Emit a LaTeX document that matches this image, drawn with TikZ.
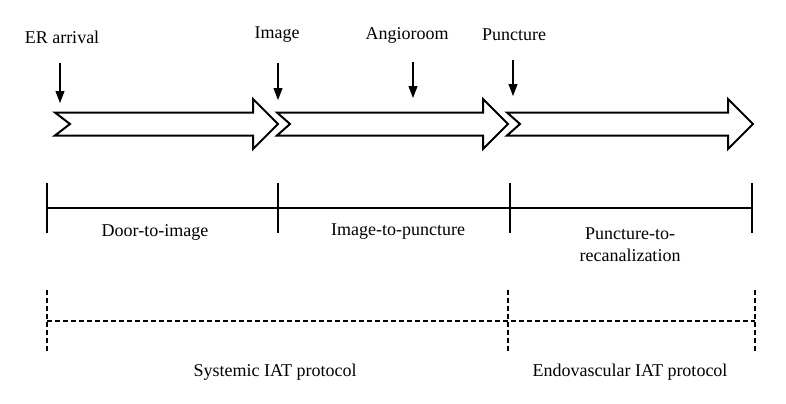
\documentclass[tikz,border=0pt]{standalone}
\usepackage{fontspec}
\setmainfont{Liberation Serif}
\usetikzlibrary{positioning,calc,arrows.meta}

\tikzset{
  stagearrow/.style={draw=black, line width=1pt, line join=miter},
  marker/.style={-{Triangle[width=4.5pt,length=6pt]}, line width=0.6pt},
  lbl/.style={font=\fontsize{9}{11}\selectfont, inner sep=1pt, align=center},
  timebar/.style={line width=1pt},
  protobar/.style={line width=1pt, dash pattern=on 2.5pt off 1.5pt},
}

\begin{document}
\begin{tikzpicture}[x=0.5pt,y=-0.5pt]
	\useasboundingbox (0,0) rectangle (786,403);
	
	% events
	\node[lbl] (er) at (62,37) {ER arrival};
	\node[lbl] (img) at (277,35) {Image};
	\node[lbl] (angio) at (407,35) {Angioroom};
	\node[lbl] (punct) at (514,35) {Puncture};
	
	\coordinate (er s) at (60,63);    \coordinate (er e) at (60,103);
	\coordinate (img s) at (278,63);  \coordinate (img e) at (278,100);
	\coordinate (angio s) at (413,62);\coordinate (angio e) at (413,98);
	\coordinate (punct s) at (513,60);\coordinate (punct e) at (513,96);
	\foreach \ev in {er,img,angio,punct}
		\draw[marker] (\ev\space s) -- (\ev\space e);
	
	% stage arrows
	\foreach \xa/\xn/\xs/\xt in {55/70/253/278, 277/290/483/508, 507/520/728/753}
		\draw[stagearrow] (\xa,112.5) -- (\xs,112.5) -- (\xs,99) -- (\xt,124)
			-- (\xs,149) -- (\xs,135.5) -- (\xa,135.5) -- (\xn,124) -- cycle;
	
	% intervals
	\coordinate (t0) at (47,208);
	\coordinate (t1) at (278,208);
	\coordinate (t2) at (510,208);
	\coordinate (t3) at (752,208);
	\draw[timebar] (t0) -- (t3);
	\foreach \t in {t0,t1,t2,t3}
		\draw[timebar] ($(\t)+(0,-25)$) -- ($(\t)+(0,25)$);
	\node[lbl] (d2i) at (155,232) {Door-to-image};
	\node[lbl] (i2p) at (398,232) {Image-to-puncture};
	\node[lbl] (p2r) at (630,245) {Puncture-to-\\recanalization};
	
	% protocols
	\coordinate (p0) at (47,321);
	\coordinate (p1) at (508,321);
	\coordinate (p2) at (755,321);
	\draw[protobar] (p0) -- (p2);
	\foreach \p in {p0,p1,p2}
		\draw[protobar] ($(\p)+(0,-31)$) -- ($(\p)+(0,31)$);
	\node[lbl] (sys) at (275,372) {Systemic IAT protocol};
	\node[lbl] (endo) at (630,372) {Endovascular IAT protocol};
\end{tikzpicture}
\end{document}
